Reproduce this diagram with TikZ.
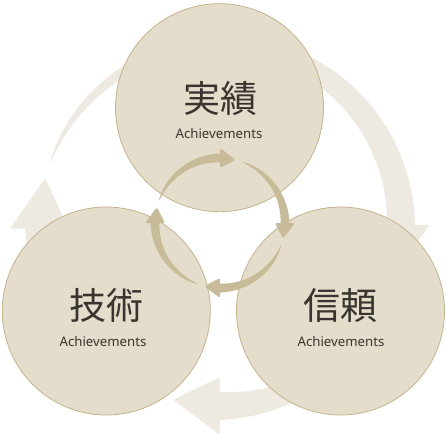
\documentclass[tikz,border=0pt]{standalone}
\usepackage{fontspec}
\newfontfamily\cjkfont{Noto Sans CJK JP}
\newfontfamily\latfont{Noto Sans}
\definecolor{outerc}{HTML}{EEEAE2}
\definecolor{innerc}{HTML}{C8BB99}
\definecolor{circfill}{HTML}{E4DDCB}
\definecolor{circline}{HTML}{C4B48E}
\definecolor{txt}{HTML}{3A3430}
\tikzset{
  circ/.style={circle, minimum size=208pt, inner sep=0pt, fill=circfill, draw=circline, line width=0.8pt},
  bigtext/.style={font=\cjkfont\fontsize{37}{40}\selectfont, text=txt, anchor=base, inner sep=0pt},
  smalltext/.style={font=\latfont\fontsize{13.2}{15}\selectfont, text=txt, anchor=base, inner sep=0pt}
}
% tapered arc arrow: #1 cx, #2 cy, #3 R, #4 half width, #5 head half width, #6 tail angle, #7 base angle, #8 tip angle, #9 colour
\newcommand\taparrow[9]{%
  \fill[#9] plot[domain=#6:#7, samples=80, variable=\t]
      ({#1+(#3+#4*(((\t-#6)/(#7-#6))+0.001)^0.7)*cos(\t)},{#2+(#3+#4*(((\t-#6)/(#7-#6))+0.001)^0.7)*sin(\t)})
    -- plot[domain=#7:#6, samples=80, variable=\t]
      ({#1+(#3-#4*(((\t-#6)/(#7-#6))+0.001)^0.7)*cos(\t)},{#2+(#3-#4*(((\t-#6)/(#7-#6))+0.001)^0.7)*sin(\t)})
    -- cycle;
  \fill[#9, rounded corners=1.5pt]
    ({#1+(#3+#5)*cos(#7)},{#2+(#3+#5)*sin(#7)})
    -- ({#1+#3*cos(#8)},{#2+#3*sin(#8)})
    -- ({#1+(#3-#5)*cos(#7)},{#2+(#3-#5)*sin(#7)})
    -- cycle;
}
\begin{document}
\begin{tikzpicture}[x=1pt,y=-1pt]
\useasboundingbox (0,0) rectangle (446,438);
% outer cycle arrows (behind circles)
\taparrow{220}{225}{181}{14}{29}{200}{360}{375}{outerc}
\taparrow{220}{225}{181}{14}{29}{20}{90}{105}{outerc}
\taparrow{220}{225}{181}{14}{29}{110}{179}{195}{outerc}
% circles
\node[circ] (top) at (219.5,107.7) {};
\node[circ] (left) at (106.3,311) {};
\node[circ] (right) at (340.5,311) {};
% inner cycle arrows
\taparrow{220}{223}{65}{4.5}{10}{200}{270}{284}{innerc}
\taparrow{220}{223}{65}{4.5}{10}{290}{360}{374}{innerc}
\taparrow{220}{223}{65}{4.5}{10}{20}{90}{104}{innerc}
\taparrow{220}{223}{65}{4.5}{10}{110}{180}{194}{innerc}
% texts
\node[bigtext] (t1) at (220,112.5) {実績};
\node[smalltext] (s1) at (219,138.3) {Achievements};
\node[bigtext] (t2) at (106,319.5) {技術};
\node[smalltext] (s2) at (103,346.5) {Achievements};
\node[bigtext] (t3) at (340,319.5) {信頼};
\node[smalltext] (s3) at (341,346.5) {Achievements};
\end{tikzpicture}
\end{document}
